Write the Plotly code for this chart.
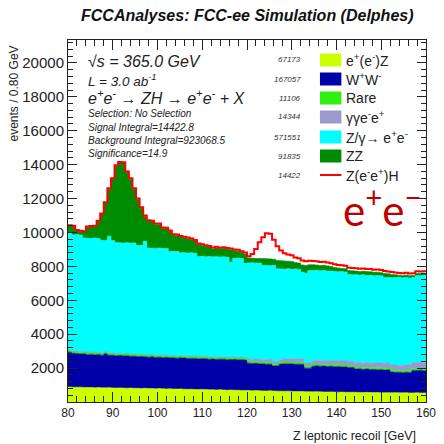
import numpy as np
import plotly.graph_objects as go

# ---------------- data (events per 0.8 GeV bin, 80-160 GeV) ----------------
bin_edges = np.round(np.linspace(80.0, 160.0, 101), 2)

n_eeZ = [880, 870, 865, 875, 860, 850, 858, 845, 850, 840,
         835, 845, 830, 825, 832, 820, 815, 822, 810, 805,
         800, 808, 795, 790, 785, 792, 780, 770, 775, 765,
         760, 768, 755, 748, 752, 740, 735, 742, 730, 722,
         720, 715, 722, 708, 700, 705, 695, 690, 685, 680,
         675, 668, 672, 660, 655, 650, 658, 645, 640, 635,
         630, 638, 625, 620, 615, 622, 610, 605, 600, 608,
         598, 592, 590, 596, 585, 580, 583, 575, 572, 578,
         570, 565, 562, 568, 560, 555, 558, 552, 550, 548,
         545, 550, 542, 540, 545, 538, 535, 540, 532, 530]

n_WW = [2060, 2000, 1990, 1960, 1975, 1940, 1950, 1930, 1945, 1920,
        2010, 1915, 1930, 1900, 1910, 1895, 1905, 1880, 1890, 1870,
        1880, 1860, 1850, 1870, 1845, 1850, 1835, 1855, 1830, 1840,
        1825, 1830, 1840, 1815, 1820, 1830, 1805, 1815, 1820, 1800,
        1810, 1795, 1800, 1815, 1790, 1800, 1810, 1795, 1805, 1790,
        1615, 1600, 1610, 1590, 1595, 1580, 1575, 1480, 1490, 1600,
        1620, 1610, 1625, 1605, 1615, 1600, 1380, 1390, 1510, 1525,
        1515, 1530, 1500, 1510, 1495, 1505, 1480, 1490, 1470, 1460,
        1370, 1385, 1360, 1375, 1350, 1365, 1340, 1355, 1330, 1345,
        1220, 1200, 1215, 1190, 1210, 1195, 1330, 1320, 1340, 1310]

n_rare = [115, 110, 120, 105, 112, 118, 108, 114, 110, 106,
          112, 108, 116, 110, 104, 112, 118, 106, 110, 114,
          108, 112, 105, 116, 110, 108, 114, 110, 106, 112,
          110, 116, 108, 112, 104, 110, 114, 108, 112, 110,
          106, 112, 110, 116, 108, 112, 106, 110, 114, 108,
          112, 108, 115, 110, 106, 112, 118, 108, 110, 114,
          110, 106, 112, 116, 108, 110, 114, 108, 112, 106,
          112, 110, 108, 114, 110, 106, 112, 116, 108, 110,
          114, 108, 110, 112, 106, 110, 116, 108, 112, 110,
          108, 114, 110, 106, 112, 110, 108, 114, 110, 112]

n_ggee = [25, 30, 28, 22, 30, 26, 32, 28, 24, 30,
          28, 32, 26, 30, 34, 28, 30, 26, 32, 28,
          30, 34, 28, 32, 30, 36, 30, 34, 28, 32,
          34, 30, 36, 32, 38, 34, 30, 36, 34, 38,
          36, 40, 34, 38, 42, 36, 40, 38, 44, 40,
          140, 150, 145, 160, 155, 150, 165, 170, 160, 175,
          180, 190, 185, 200, 195, 205, 210, 200, 215, 220,
          225, 230, 220, 240, 235, 245, 250, 240, 255, 260,
          265, 270, 260, 280, 275, 285, 290, 280, 295, 300,
          310, 320, 305, 330, 325, 340, 350, 345, 360, 380]

n_Zgamma = [6900, 6850, 6870, 6890, 6700, 6730, 6700, 6750, 6710, 6640,
            6545, 6880, 6620, 6535, 6510, 6525, 6530, 6535, 6540, 6415,
            6420, 6665, 6300, 6260, 6290, 6295, 6290, 6290, 6140, 6140,
            6140, 6055, 6070, 6085, 6085, 6065, 5895, 5890, 5875, 5910,
            5890, 5910, 5885, 5885, 5900, 5595, 5830, 5855, 5820, 5560,
            5660, 5685, 5650, 5680, 5550, 5560, 5525, 5655, 5460, 5325,
            5300, 5315, 5285, 5310, 5285, 5125, 5285, 5455, 5315, 5310,
            5290, 5290, 5310, 5260, 5275, 5245, 5265, 5250, 5115, 5090,
            5190, 5160, 5210, 5125, 5180, 5135, 5155, 5145, 5055, 5045,
            5145, 5155, 5180, 5165, 5150, 5135, 5015, 5140, 5110, 5140]

n_ZZ = [400, 500, 240, 205, 360, 645, 690, 685, 1010, 1530,
        2200, 2765, 3630, 4505, 4700, 4710, 4145, 3775, 3170, 2715,
        2190, 1465, 1590, 1575, 1410, 1390, 1195, 1160, 1185, 950,
        950, 940, 880, 850, 785, 710, 710, 645, 615, 560,
        480, 515, 480, 490, 470, 725, 450, 410, 350, 555,
        290, 270, 270, 270, 400, 400, 400, 360, 480, 480,
        480, 440, 460, 370, 380, 420, 450, 340, 340, 310,
        310, 310, 300, 270, 230, 220, 190, 190, 230, 240,
        210, 210, 210, 230, 210, 200, 200, 190, 230, 210,
        190, 160, 120, 130, 140, 130, 130, 120, 120, 110]

n_ZH = [40, 42, 38, 45, 40, 44, 42, 46, 48, 50,
        52, 55, 50, 55, 58, 52, 56, 54, 50, 55,
        52, 56, 50, 54, 58, 52, 55, 60, 56, 58,
        60, 58, 62, 60, 64, 62, 58, 66, 64, 62,
        68, 65, 70, 68, 72, 75, 70, 78, 80, 85,
        110, 250, 560, 950, 1250, 1500, 1480, 1150, 850, 600,
        460, 400, 360, 300, 280, 260, 250, 240, 230, 220,
        210, 205, 200, 195, 190, 185, 180, 178, 175, 170,
        168, 165, 162, 160, 158, 155, 152, 150, 148, 145,
        142, 140, 138, 136, 135, 132, 130, 128, 126, 125]

legend_labels = ["e<sup>+</sup>(e<sup>-</sup>)Z", "W<sup>+</sup>W<sup>-</sup>", "Rare",
                 "γγe<sup>-</sup>e<sup>+</sup>", "Z/γ→ e<sup>+</sup>e<sup>-</sup>", "ZZ",
                 "Z(e<sup>-</sup>e<sup>+</sup>)H"]
legend_counts = ["67173", "167057", "11106", "14344", "571551", "91835", "14422"]
y_tick_vals = [2000, 4000, 6000, 8000, 10000, 12000, 14000, 16000, 18000, 20000]

bkg_colors = ["#ccff00", "#0000a8", "#33ee11", "#9999cc", "#00ffff", "#008c00"]
sig_color = "#ff0000"

# ---------------- figure ----------------
W, H = 444, 444
L, R, T, B = 68, 8, 40, 42
FONT = "Liberation Sans"


def px_x(p):
    return (p - L) / (W - L - R)


def px_y(p):
    return (H - B - p) / (H - T - B)


fig = go.Figure()
bkg_series = [n_eeZ, n_WW, n_rare, n_ggee, n_Zgamma, n_ZZ]
for vals, col in zip(bkg_series, bkg_colors):
    fig.add_trace(go.Scatter(
        x=bin_edges, y=list(vals) + [vals[-1]], mode="lines",
        line=dict(width=0.6, shape="hv", color=col), fillcolor=col,
        stackgroup="bkg", showlegend=False, hoverinfo="skip"))

total = np.sum(np.array(bkg_series + [n_ZH]), axis=0)
fig.add_trace(go.Scatter(
    x=bin_edges, y=list(total) + [total[-1]], mode="lines",
    line=dict(width=2, shape="hv", color=sig_color),
    showlegend=False, hoverinfo="skip"))

axis_common = dict(ticks="inside", tickcolor="#222", showline=True, linecolor="#222",
                   linewidth=1, mirror="allticks", showgrid=False, zeroline=False,
                   ticklabeloverflow="allow")
fig.update_xaxes(range=[80, 160], tickmode="linear", tick0=80, dtick=10, ticklen=10,
                 minor=dict(ticks="inside", ticklen=6, dtick=2, tick0=80, tickcolor="#222"),
                 tickfont=dict(size=12, family=FONT, color="#222"), **axis_common)
fig.update_yaxes(range=[0, 21350], tickmode="array", tickvals=y_tick_vals,
                 ticktext=[str(v) for v in y_tick_vals], ticklen=9,
                 minor=dict(ticks="inside", ticklen=5, dtick=400, tick0=0, tickcolor="#222"),
                 tickfont=dict(size=15, family=FONT, color="#222"), **axis_common)

ann = []
# title
ann.append(dict(x=px_x(253), y=px_y(15), xref="paper", yref="paper", showarrow=False,
                text="<b><i>FCCAnalyses: FCC-ee Simulation (Delphes)</i></b>",
                font=dict(size=16, family=FONT, color="#111"), xanchor="center", yanchor="middle"))
# axis titles
ann.append(dict(x=px_x(13), y=px_y(43), xref="paper", yref="paper", showarrow=False,
                text="events / 0.80 GeV", textangle=-90,
                font=dict(size=12, family=FONT, color="#222"), xanchor="center", yanchor="top"))
ann.append(dict(x=px_x(428), y=px_y(436), xref="paper", yref="paper", showarrow=False,
                text="Z leptonic recoil [GeV]",
                font=dict(size=12.5, family=FONT, color="#222"), xanchor="right", yanchor="middle"))
# info text
info = [("<i>√s = 365.0 GeV</i>", 62, 16),
        ("<i>L = 3.0 ab<sup>-1</sup></i>", 80, 13.5),
        ("<i>e<sup>+</sup>e<sup>-</sup> → ZH → e<sup>+</sup>e<sup>-</sup> + X</i>", 97, 16),
        ("<i>Selection: No Selection</i>", 113, 10),
        ("<i>Signal Integral=14422.8</i>", 127, 10),
        ("<i>Background Integral=923068.5</i>", 140, 10),
        ("<i>Significance=14.9</i>", 153, 10)]
for txt, yy, sz in info:
    ann.append(dict(x=px_x(87), y=px_y(yy), xref="paper", yref="paper", showarrow=False,
                    text=txt, font=dict(size=sz, family=FONT, color="#222"),
                    xanchor="left", yanchor="middle"))

# legend
row_y = [60, 79, 98, 117, 137, 156, 175]
shapes = []
for i, (lab, cnt, yy) in enumerate(zip(legend_labels, legend_counts, row_y)):
    ann.append(dict(x=px_x(310), y=px_y(yy), xref="paper", yref="paper", showarrow=False,
                    text="<i>" + cnt + "</i>", font=dict(size=8, family=FONT, color="#333"),
                    xanchor="right", yanchor="middle"))
    ann.append(dict(x=px_x(352), y=px_y(yy), xref="paper", yref="paper", showarrow=False,
                    text=lab, font=dict(size=14, family=FONT, color="#222"),
                    xanchor="left", yanchor="middle"))
    if i < len(bkg_colors):
        shapes.append(dict(type="rect", xref="paper", yref="paper",
                           x0=px_x(327), x1=px_x(349), y0=px_y(yy - 6.5), y1=px_y(yy + 6.5),
                           fillcolor=bkg_colors[i], line=dict(width=0)))
    else:
        shapes.append(dict(type="line", xref="paper", yref="paper",
                           x0=px_x(327), x1=px_x(349), y0=px_y(yy), y1=px_y(yy),
                           line=dict(color=sig_color, width=2)))

# big red e+e- label
ann.append(dict(x=px_x(391), y=px_y(207), xref="paper", yref="paper", showarrow=False,
                text="e<sup>+</sup>e<sup>−</sup>", font=dict(size=42, family="Lato", color="#c00000"),
                xanchor="center", yanchor="middle"))

fig.update_layout(width=W, height=H, margin=dict(l=L, r=R, t=T, b=B),
                  plot_bgcolor="white", paper_bgcolor="white", showlegend=False,
                  annotations=ann, shapes=shapes,
                  font=dict(family=FONT, color="#222"))

fig.write_html("out.html", config={"displayModeBar": False},
               post_script="document.body.style.margin='0';")
